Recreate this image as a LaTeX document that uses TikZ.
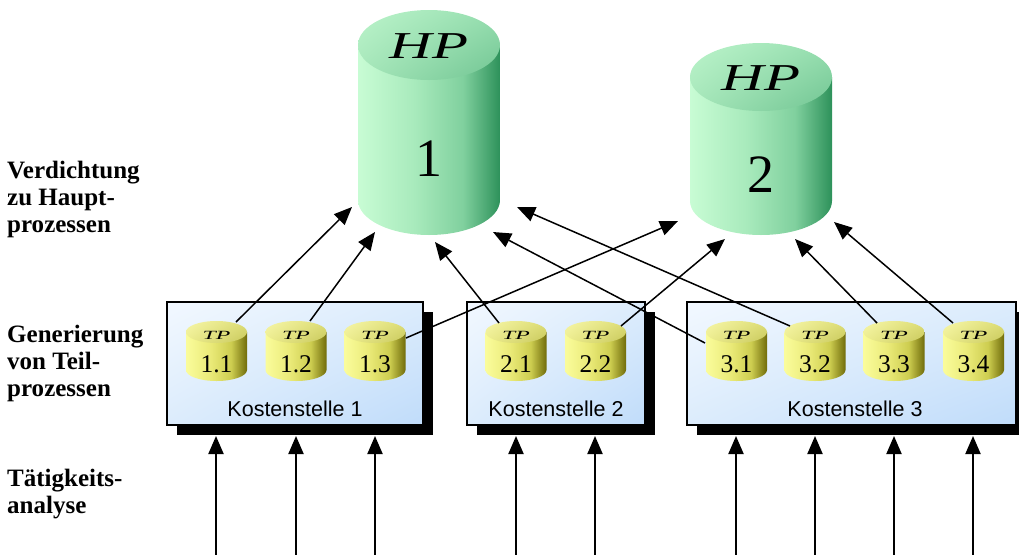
\documentclass[tikz,border=0pt]{standalone}
\usepackage{fontspec}
\usepackage{graphicx}
\setmainfont{Liberation Serif}
\setsansfont{Liberation Sans}
\usetikzlibrary{arrows.meta,shadows,shadings}
\definecolor{gA}{RGB}{200,252,212}
\definecolor{gB}{RGB}{168,234,188}
\definecolor{gM}{RGB}{128,208,158}
\definecolor{gC}{RGB}{45,145,90}
\definecolor{gT1}{RGB}{188,244,203}
\definecolor{gT2}{RGB}{150,222,175}
\definecolor{gT3}{RGB}{165,230,185}
\definecolor{gT4}{RGB}{112,196,146}
\definecolor{yA}{RGB}{250,252,155}
\definecolor{yB}{RGB}{234,234,120}
\definecolor{yM}{RGB}{205,205,80}
\definecolor{yC}{RGB}{112,108,10}
\definecolor{yT1}{RGB}{246,246,168}
\definecolor{yT2}{RGB}{222,222,118}
\definecolor{yT3}{RGB}{236,236,140}
\definecolor{yT4}{RGB}{200,200,92}
\definecolor{bA}{RGB}{242,248,255}
\definecolor{bM}{RGB}{220,236,252}
\definecolor{bB}{RGB}{192,220,250}
\pgfdeclarehorizontalshading{hpbody}{100bp}{color(0bp)=(gA); color(25bp)=(gA); color(45bp)=(gB); color(62bp)=(gM); color(75bp)=(gC); color(100bp)=(gC)}
\pgfdeclarehorizontalshading{tpbody}{100bp}{color(0bp)=(yA); color(25bp)=(yA); color(45bp)=(yB); color(62bp)=(yM); color(75bp)=(yC); color(100bp)=(yC)}
\newcommand\mycyl[6]{%
  \path[shading=#6body] (#1-#4,#2+#5) -- (#1-#4,#3-#5)
    arc[start angle=180,end angle=0,x radius=#4,y radius=#5]
    -- (#1+#4,#2+#5) -- cycle;
  \path[#6top] (#1,#2+#5) ellipse[x radius=#4,y radius=#5];}
\newcommand\tpcyl[3]{% cx, first, second
  \mycyl{#1}{321}{381}{30.5}{11}{tp}
  \node[tptext] (tp#2#3) at (#1,335.5) {\scalebox{1.9}[1]{TP}};
  \node[tpnum] (n#2#3) at (#1,364) {#2.#3};}
\begin{document}
\begin{tikzpicture}[x=1pt,y=-1pt,
  hptop/.style={upper left=gT1, upper right=gT2, lower left=gT3, lower right=gT4},
  tptop/.style={upper left=yT1, upper right=yT2, lower left=yT3, lower right=yT4},
  kbox/.style={draw=black, line width=1.5pt, upper left=bA, upper right=bM,
    lower left=bM, lower right=bB, inner sep=0pt, minimum height=123pt,
    drop shadow={shadow xshift=10pt, shadow yshift=-10pt, opacity=1, fill=black}},
  ktext/.style={font=\sffamily\fontsize{21.5}{24}\selectfont, inner sep=0pt},
  tptext/.style={font=\itshape\fontsize{12.5}{14}\selectfont, inner sep=0pt},
  tpnum/.style={font=\fontsize{25.5}{28}\selectfont, inner sep=0pt},
  hptext/.style={font=\itshape\fontsize{38}{40}\selectfont, inner sep=0pt},
  hpnum/.style={font=\fontsize{54}{56}\selectfont, inner sep=0pt},
  lab/.style={font=\bfseries\fontsize{25}{26.7}\selectfont, align=left, inner sep=0pt, anchor=base west},
  conn/.style={line width=1.5pt, -{Triangle[length=18pt,width=15pt]}},
  inarrow/.style={line width=2pt, -{Triangle[length=18pt,width=15pt]}}]
\useasboundingbox (0,0) rectangle (1019,554);
% boxes
\node[kbox, minimum width=256pt] (k1) at (295,363.5) {};
\node[kbox, minimum width=178pt] (k2) at (556,363.5) {};
\node[kbox, minimum width=329pt] (k3) at (851.5,363.5) {};
\node[ktext] (k1t) at (295,409) {Kostenstelle 1};
\node[ktext] (k2t) at (556,409) {Kostenstelle 2};
\node[ktext] (k3t) at (855,409) {Kostenstelle 3};
% small cylinders
\tpcyl{216.5}{1}{1}
\tpcyl{296}{1}{2}
\tpcyl{375}{1}{3}
\tpcyl{516}{2}{1}
\tpcyl{595.5}{2}{2}
\tpcyl{736.5}{3}{1}
\tpcyl{815}{3}{2}
\tpcyl{894}{3}{3}
\tpcyl{973.5}{3}{4}
% big cylinders
\mycyl{429}{10}{235}{71}{35}{hp}
\mycyl{761}{43}{235}{71}{34}{hp}
\node[hptext] (hp1t) at (429,46) {\scalebox{1.55}[1]{HP}};
\node[hpnum] (hp1n) at (429,159) {1};
\node[hptext] (hp2t) at (761,78) {\scalebox{1.55}[1]{HP}};
\node[hpnum] (hp2n) at (761,175) {2};
% connector end points
\coordinate (c11) at (236,322);
\coordinate (c12) at (310,321);
\coordinate (c13) at (406,338);
\coordinate (c21) at (499,323);
\coordinate (c22) at (621,326);
\coordinate (c31) at (705,343);
\coordinate (c32) at (790,326);
\coordinate (c33) at (877,323);
\coordinate (c34) at (953,323);
\coordinate (h1a) at (352,207);
\coordinate (h1b) at (375,232);
\coordinate (h1c) at (435,242);
\coordinate (h1d) at (493,232);
\coordinate (h1e) at (517,207);
\coordinate (h2a) at (678,221);
\coordinate (h2b) at (725,239);
\coordinate (h2c) at (795,239);
\coordinate (h2d) at (834,222);
\draw[conn] (c11) -- (h1a);
\draw[conn] (c12) -- (h1b);
\draw[conn] (c13) -- (h2a);
\draw[conn] (c21) -- (h1c);
\draw[conn] (c22) -- (h2b);
\draw[conn] (c31) -- (h1d);
\draw[conn] (c32) -- (h1e);
\draw[conn] (c33) -- (h2c);
\draw[conn] (c34) -- (h2d);
% input arrows
\foreach \i/\x in {1/216,2/296,3/375,4/516,5/595,6/736,7/815,8/894,9/973}{
  \coordinate (in\i) at (\x,556);
  \coordinate (it\i) at (\x,436);
  \draw[inarrow] (in\i) -- (it\i);
}
% left labels (anchored at the baseline of the last line)
\node[lab] (l1) at (7,232) {Verdichtung\\zu Haupt-\\prozessen};
\node[lab] (l2) at (7,396) {Generierung\\von Teil-\\prozessen};
\node[lab] (l3) at (7,513) {Tätigkeits-\\analyse};
\end{tikzpicture}
\end{document}
